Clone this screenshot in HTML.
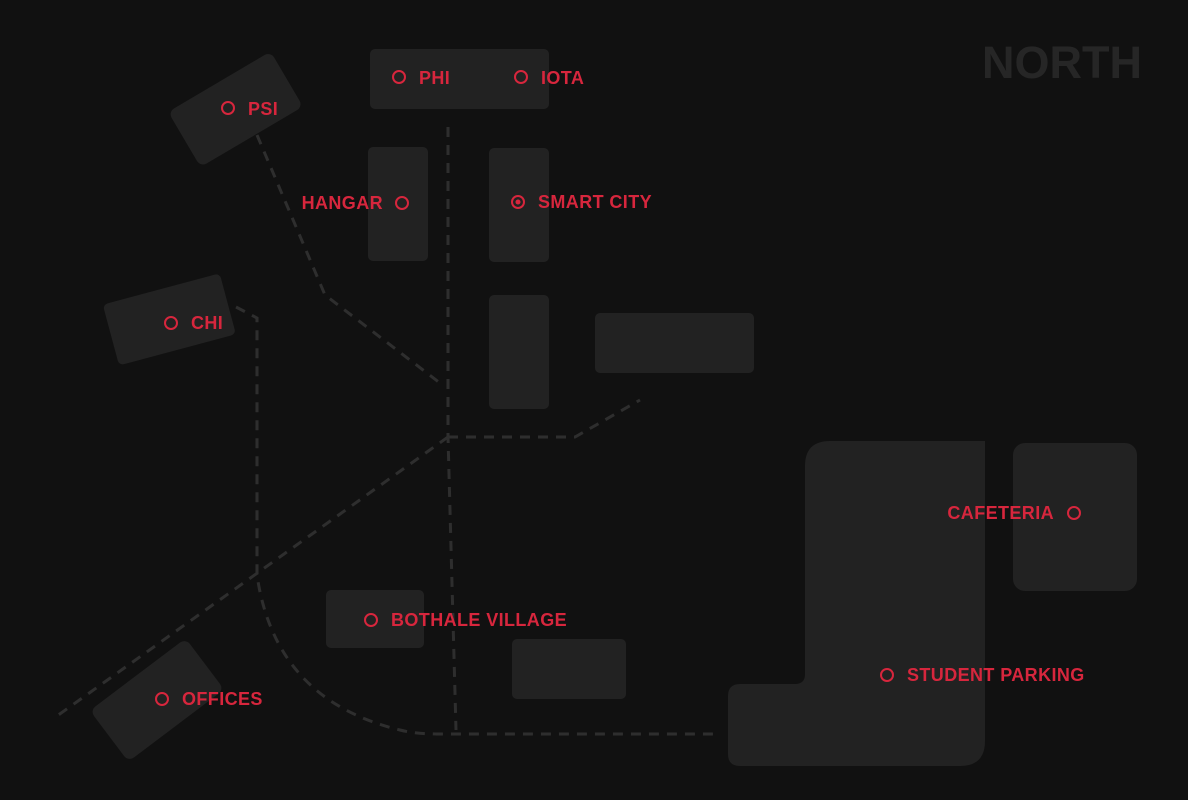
<!DOCTYPE html>
<html><head><style>
html,body{margin:0;padding:0;background:#111111;}
svg{display:block}
text{font-family:"Liberation Sans",sans-serif;}
</style></head><body>
<svg width="1188" height="800" viewBox="0 0 1188 800" xmlns="http://www.w3.org/2000/svg">
<rect width="1188" height="800" fill="#111111"/>
<text x="1142" y="78" text-anchor="end" font-size="45" font-weight="bold" fill="#262626">NORTH</text>
<g fill="#222222">
<rect x="370" y="49" width="179" height="60" rx="5"/>
<rect x="176" y="77" width="119" height="64" rx="7" transform="rotate(-30.5 236 109)"/>
<rect x="368" y="147" width="60" height="114" rx="5"/>
<rect x="489" y="148" width="60" height="114" rx="5"/>
<rect x="489" y="295" width="60" height="114" rx="5"/>
<rect x="595" y="313" width="159" height="60" rx="5"/>
<rect x="109" y="288" width="121" height="63" rx="5" transform="rotate(-15 169 320)"/>
<rect x="97" y="668" width="120" height="64" rx="7" transform="rotate(-37 157 700)"/>
<rect x="326" y="590" width="98" height="58" rx="5"/>
<rect x="512" y="639" width="114" height="60" rx="5"/>
<path d="M830,441 H985 V741 Q985,766 960,766 H740 Q728,766 728,754 V696 Q728,684 740,684 H795 Q805,684 805,674 V466 Q805,441 830,441 Z"/>
<rect x="1013" y="443" width="124" height="148" rx="12"/>
</g>
<g fill="none" stroke="#2e2e2e" stroke-width="3" stroke-dasharray="10 8">
<path d="M257,135 L325,295 L440,383"/>
<path d="M448,127 V437 L456,730"/>
<path d="M448,437 H575 L640,400"/>
<path d="M448,437 L57,716"/>
<path d="M236,307 L257,318 V575 Q275,700 400,730 Q415,734 440,734 H720"/>
</g>
<g fill="none" stroke="#d7263d" stroke-width="2">
<circle cx="228" cy="108" r="6"/>
<circle cx="399" cy="77" r="6"/>
<circle cx="521" cy="77" r="6"/>
<circle cx="402" cy="203" r="6"/>
<circle cx="518" cy="202" r="6"/>
<circle cx="171" cy="323" r="6"/>
<circle cx="371" cy="620" r="6"/>
<circle cx="162" cy="699" r="6"/>
<circle cx="1074" cy="513" r="6"/>
<circle cx="887" cy="675" r="6"/>
</g>
<circle cx="518" cy="202" r="2.5" fill="#d7263d"/>
<g fill="#d7263d" font-size="18" font-weight="bold" letter-spacing="0.4">
<text x="248" y="115">PSI</text>
<text x="419" y="84">PHI</text>
<text x="541" y="84">IOTA</text>
<text x="383" y="209" text-anchor="end">HANGAR</text>
<text x="538" y="208">SMART CITY</text>
<text x="191" y="329">CHI</text>
<text x="391" y="626">BOTHALE VILLAGE</text>
<text x="182" y="705">OFFICES</text>
<text x="1054" y="519" text-anchor="end">CAFETERIA</text>
<text x="907" y="681">STUDENT PARKING</text>
</g>
</svg>
</body></html>
